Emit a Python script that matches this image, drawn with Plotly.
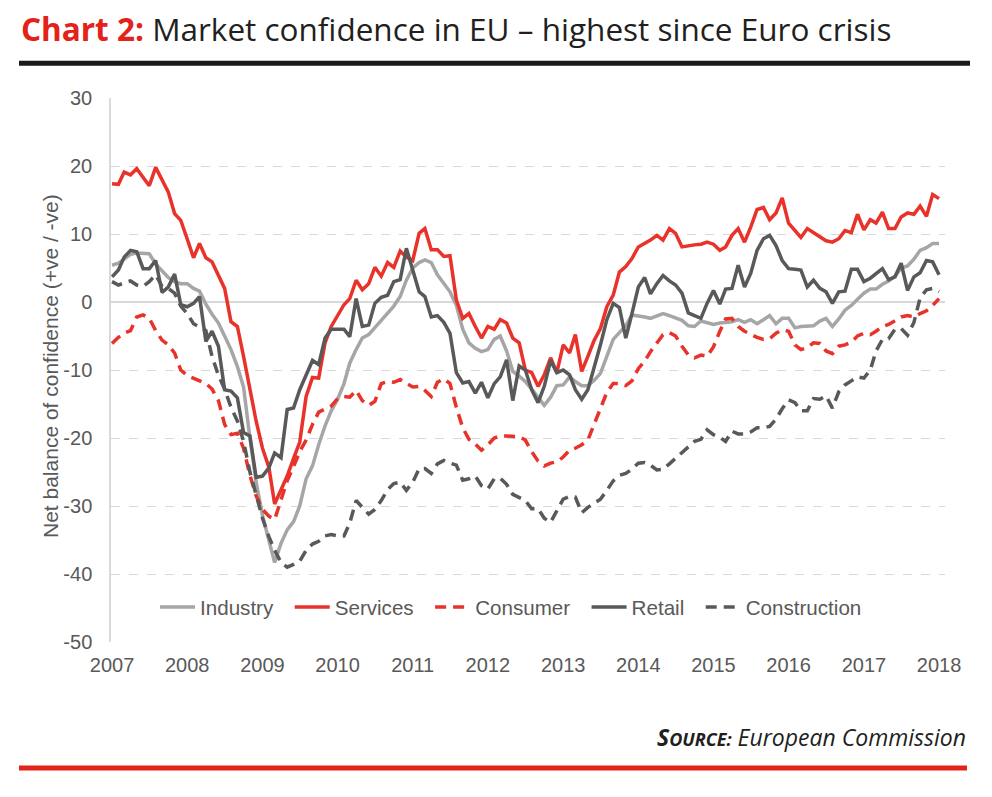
import pandas as pd
import plotly.graph_objects as go

months = pd.date_range("2007-01-01", periods=133, freq="MS")

industry = [5.4, 5.7, 6.3, 7.0, 7.2, 7.2, 7.1, 5.6, 4.6, 3.6, 3.0, 2.7, 2.7, 2.0, 1.6, -0.3, -1.8, -3.1, -5.0, -7.0,
            -9.5, -12.5, -20.0, -26.5, -31.4, -35.3, -38.3, -35.5, -33.5, -32.3, -30.0, -26.0, -24.1, -21.0, -18.2, -16.0, -14.3, -12.0, -9.0, -7.0,
            -5.3, -4.8, -3.8, -2.8, -1.7, -0.6, 0.8, 3.2, 5.0, 5.8, 6.2, 5.8, 4.0, 2.8, 1.5, -0.5, -4.0, -6.0, -6.8, -7.3,
            -7.0, -5.5, -5.0, -7.2, -10.2, -10.9, -11.7, -12.8, -14.0, -15.2, -14.0, -12.3, -12.2, -11.0, -11.7, -12.3, -12.3, -11.5, -10.5, -8.0,
            -5.5, -4.5, -3.5, -1.9, -2.0, -2.2, -2.4, -2.0, -1.7, -2.0, -2.4, -2.7, -3.5, -3.6, -2.8, -3.0, -3.3, -3.1, -3.0, -2.9,
            -2.6, -3.0, -2.6, -3.2, -2.6, -2.0, -3.2, -2.4, -2.4, -3.8, -3.6, -3.5, -3.5, -2.8, -2.4, -3.6, -2.5, -1.2, -0.5, 0.4,
            1.3, 1.9, 1.9, 2.6, 3.1, 3.8, 5.0, 5.3, 6.3, 7.6, 8.0, 8.6, 8.6]

services = [17.4, 17.3, 19.1, 18.7, 19.6, 18.3, 17.1, 19.8, 18.0, 16.2, 13.0, 12.0, 9.3, 6.5, 8.6, 6.5, 5.9, 4.0, 2.0, -2.9,
            -3.6, -8.0, -12.9, -17.5, -21.5, -24.3, -29.7, -27.5, -25.6, -23.0, -20.6, -13.9, -11.1, -11.2, -6.0, -3.6, -2.0, -0.4, 0.5, 3.2,
            1.8, 2.7, 5.1, 3.8, 5.8, 5.1, 7.5, 6.6, 6.1, 10.1, 10.8, 7.7, 7.7, 6.7, 6.8, 0.3, -2.4, -1.7, -3.6, -5.3,
            -3.6, -4.0, -2.6, -3.1, -5.3, -6.0, -10.0, -10.4, -12.4, -10.7, -8.2, -10.4, -6.3, -7.5, -4.8, -10.2, -8.0, -5.6, -3.9, -0.7,
            1.0, 4.4, 5.2, 6.4, 8.1, 8.6, 9.1, 9.8, 9.1, 10.8, 10.1, 8.1, 8.3, 8.4, 8.5, 8.8, 8.5, 7.6, 8.1, 9.8,
            10.8, 8.8, 11.0, 13.6, 13.9, 12.1, 13.1, 15.3, 11.6, 10.6, 9.5, 10.8, 10.2, 9.6, 9.0, 8.8, 9.3, 10.5, 10.2, 12.9,
            10.6, 12.1, 11.6, 13.2, 10.8, 10.8, 12.5, 13.1, 12.9, 14.1, 12.6, 15.8, 15.2]

consumer = [-6.1, -5.2, -4.6, -4.2, -2.2, -1.9, -2.4, -4.2, -5.6, -6.3, -7.5, -10.0, -10.8, -11.2, -11.5, -12.0, -12.8, -14.5, -18.0, -19.5,
            -19.3, -21.5, -25.5, -28.5, -30.5, -31.5, -32.0, -29.0, -26.3, -24.2, -22.0, -20.3, -18.0, -16.2, -15.7, -15.3, -14.2, -13.9, -14.0, -13.0,
            -14.5, -15.2, -14.6, -12.0, -11.7, -11.8, -11.4, -12.0, -12.5, -12.4, -13.0, -13.9, -11.8, -11.3, -12.0, -15.5, -18.5, -20.2, -20.9, -21.8,
            -21.0, -20.0, -19.7, -19.7, -19.7, -19.8, -20.3, -22.0, -23.4, -24.1, -23.7, -23.5, -22.8, -21.8, -21.5, -21.0, -20.3, -18.0, -15.5, -13.3,
            -12.0, -12.0, -12.3, -11.6, -9.8, -8.7, -7.3, -6.0, -4.8, -4.5, -5.0, -6.5, -7.8, -8.2, -7.8, -8.0, -6.6, -4.3, -2.5, -2.4,
            -3.6, -4.3, -4.8, -5.2, -5.5, -5.4, -4.6, -4.1, -4.3, -6.3, -7.0, -6.7, -6.0, -6.1, -7.2, -7.6, -6.5, -6.3, -5.9, -5.0,
            -4.6, -4.8, -4.3, -3.6, -3.3, -2.8, -2.2, -2.0, -2.2, -1.7, -1.3, -0.5, 0.5]

retail = [3.7, 4.7, 6.6, 7.6, 7.4, 4.9, 4.9, 6.1, 1.4, 2.2, 4.1, -0.4, -0.7, -0.2, 0.8, -5.8, -4.3, -6.5, -12.9, -13.1,
          -14.1, -19.2, -19.7, -25.8, -25.6, -24.4, -22.2, -22.9, -15.8, -15.6, -12.9, -10.9, -8.6, -9.2, -5.3, -4.0, -4.0, -4.0, -5.1, 0.5,
          -3.6, -3.4, -0.2, 0.7, 1.0, 3.0, 3.3, 7.9, 4.7, 1.5, 0.8, -2.2, -2.0, -3.0, -4.6, -10.4, -11.9, -11.7, -13.4, -11.8,
          -14.1, -12.0, -11.0, -8.5, -14.5, -9.4, -10.0, -12.9, -14.8, -12.4, -8.6, -10.4, -10.0, -10.7, -12.9, -14.3, -12.9, -9.7, -6.3, -2.6,
          -0.2, -0.8, -5.3, -1.7, 2.2, 3.6, 1.2, 2.7, 3.9, 3.1, 2.5, 1.3, -1.6, -2.0, -2.4, -0.2, 1.7, -0.3, 1.9, 2.0,
          5.4, 2.2, 4.2, 7.6, 9.3, 9.8, 8.3, 6.1, 4.9, 4.8, 4.7, 2.2, 3.2, 2.0, 1.5, -0.2, 1.5, 1.6, 4.8, 4.8,
          3.0, 3.5, 4.2, 4.9, 3.3, 3.7, 5.7, 1.7, 3.7, 4.3, 6.1, 5.9, 4.0]

construction = [3.0, 2.5, 2.8, 3.1, 2.5, 2.3, 3.0, 4.0, 2.3, 2.0, 1.3, -0.6, -1.7, -3.2, -3.7, -4.2, -8.0, -10.8, -12.8, -15.5,
                -17.5, -20.5, -25.0, -28.2, -31.8, -34.5, -36.5, -38.3, -39.0, -38.6, -38.1, -36.5, -35.6, -35.2, -34.4, -34.2, -34.4, -34.4, -32.5, -29.2,
                -30.2, -31.2, -30.5, -29.2, -27.6, -26.7, -26.5, -27.7, -26.5, -24.5, -24.5, -25.2, -23.8, -23.3, -23.7, -24.0, -26.2, -26.0, -25.6, -27.0,
                -27.5, -26.0, -25.9, -26.8, -28.3, -28.8, -29.2, -30.4, -30.4, -31.8, -32.4, -30.7, -29.0, -28.6, -28.7, -31.0, -30.2, -29.6, -29.0, -27.7,
                -26.3, -25.5, -25.2, -24.6, -23.7, -23.6, -24.0, -24.7, -24.6, -23.8, -23.0, -22.2, -21.3, -20.5, -20.2, -18.8, -19.5, -19.9, -20.5, -19.0,
                -19.4, -19.4, -19.1, -18.5, -18.5, -18.3, -17.2, -15.7, -14.4, -14.8, -16.0, -16.0, -14.2, -14.3, -13.8, -15.6, -13.2, -12.2, -11.6, -11.0,
                -11.2, -10.0, -7.2, -5.5, -5.4, -4.0, -3.9, -4.9, -3.0, 0.6, 1.8, 2.0, 1.5]

year_ticks = pd.date_range("2007-01-01", "2018-01-01", freq="YS")
year_labels = [str(d.year) for d in year_ticks]
y_ticks = [30, 20, 10, 0, -10, -20, -30, -40, -50]
y_labels = [str(v) for v in y_ticks]

RED = "#e8322a"
LIGHT = "#a6a6a6"
DARK = "#595959"
TXT = "#595959"
FONT = "Liberation Sans, Arial, sans-serif"
HEAD = "Open Sans, sans-serif"

# page has an 8px body margin, so the figure is placed 8px in from the top-left
OFF = 8
W, H = 992 - 2 * OFF, 797 - 2 * OFF
L, R, T, B = 111, 945, 98, 642  # plot area in page pixels


def px(x):
    return (x - L) / (R - L)


def py(y):
    return (B - y) / (B - T)


fig = go.Figure()
PAD = "\u00a0\u00a0"
series = [
    ("Industry", industry, LIGHT, "solid"),
    ("Services", services, RED, "solid"),
    ("Consumer", consumer, RED, "11px,7px"),
    ("Retail", retail, DARK, "solid"),
    ("Construction", construction, DARK, "11px,7px"),
]
for name, vals, col, dash in series:
    fig.add_trace(go.Scatter(x=months, y=vals, name=name + PAD, mode="lines",
                             line=dict(color=col, width=3.5, dash=dash)))

fig.update_layout(
    width=W, height=H,
    margin=dict(l=L - OFF, r=W - (R - OFF), t=T - OFF, b=H - (B - OFF)),
    paper_bgcolor="white", plot_bgcolor="white",
    font=dict(family=FONT, size=20, color=TXT),
    showlegend=True,
    legend=dict(orientation="h", x=px(155), y=py(607), xanchor="left", yanchor="middle",
                bgcolor="rgba(0,0,0,0)", font=dict(size=20.6, color=TXT, family=FONT),
                itemwidth=35, tracegroupgap=0),
    xaxis=dict(range=["2006-12-27", "2018-01-30"], tickvals=list(year_ticks), ticktext=year_labels,
               showgrid=False, showline=False, zeroline=False, ticks="",
               tickfont=dict(size=20, color=TXT), ticklabelstandoff=9),
    yaxis=dict(range=[-50, 30], tickvals=y_ticks, ticktext=y_labels, showgrid=True, gridcolor="#d9d9d9",
               griddash="dash", gridwidth=1, zeroline=True, zerolinecolor="#d9d9d9", zerolinewidth=1.5,
               showline=True, linecolor="#d9d9d9", linewidth=1.5, ticks="",
               tickfont=dict(size=20, color=TXT), ticklabelstandoff=13),
)

# y-axis title
fig.add_annotation(text="Net balance of confidence (+ve / -ve)", xref="paper", yref="paper",
                   x=px(50), y=py(366), textangle=-90, showarrow=False,
                   font=dict(size=21, color=TXT, family=FONT), xanchor="center", yanchor="middle")

# headline
fig.add_annotation(text="<b><span style='color:#e2231a'>Chart 2:</span></b> Market confidence in EU \u2013 highest since Euro crisis",
                   xref="paper", yref="paper", x=px(19), y=py(29), xanchor="left", yanchor="middle",
                   showarrow=False, font=dict(size=31.5, color="#231f20", family=HEAD))

# source
fig.add_annotation(text="<b><i>S<span style='font-size:18px'>OURCE:</span></i></b> <i>European Commission</i>",
                   xref="paper", yref="paper", x=px(968), y=py(737), xanchor="right", yanchor="middle",
                   showarrow=False, font=dict(size=23, color="#231f20", family=HEAD))

# rules
fig.add_shape(type="line", xref="paper", yref="paper", x0=px(19), x1=px(970), y0=py(63.3), y1=py(63.3),
              line=dict(color="#1a1a1a", width=5))
fig.add_shape(type="line", xref="paper", yref="paper", x0=px(19), x1=px(967), y0=py(768), y1=py(768),
              line=dict(color="#e2231a", width=5))

fig.write_html("out.html")
